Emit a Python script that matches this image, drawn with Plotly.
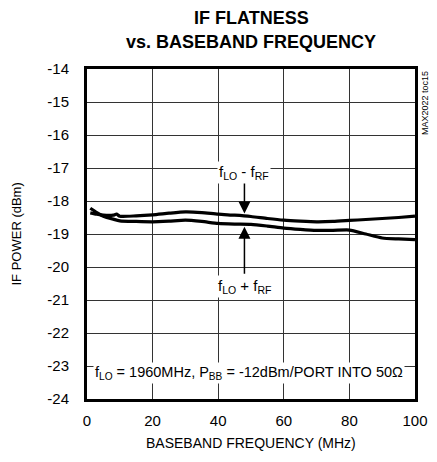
import plotly.graph_objects as go

freq_upper = [1, 3, 5, 8, 9, 10, 15, 20, 25, 30, 35, 40, 45, 50, 55, 60, 65, 70, 75, 80, 85, 90, 95, 100]
p_upper = [-18.36, -18.40, -18.43, -18.43, -18.40, -18.46, -18.45, -18.42, -18.37, -18.33, -18.35, -18.40, -18.43, -18.47, -18.53, -18.58, -18.61, -18.63, -18.62, -18.59, -18.56, -18.53, -18.50, -18.46]

freq_lower = [1, 3, 5, 8, 10, 15, 20, 25, 30, 35, 40, 45, 50, 55, 60, 65, 70, 75, 80, 85, 90, 95, 100]
p_lower = [-18.22, -18.35, -18.46, -18.55, -18.60, -18.62, -18.63, -18.61, -18.58, -18.62, -18.68, -18.70, -18.71, -18.76, -18.82, -18.86, -18.89, -18.89, -18.88, -19.00, -19.12, -19.15, -19.17]

x_ticks = [0, 20, 40, 60, 80, 100]
x_labels = ["0", "20", "40", "60", "80", "100"]
y_ticks = [-14, -15, -16, -17, -18, -19, -20, -21, -22, -23, -24]
y_labels = ["-14", "-15", "-16", "-17", "-18", "-19", "-20", "-21", "-22", "-23", "-24"]

FONT = "Liberation Sans, Arial, sans-serif"
BLACK = "black"

fig = go.Figure()
for xs, ys in ((freq_upper, p_upper), (freq_lower, p_lower)):
    fig.add_trace(go.Scatter(x=xs, y=ys, mode="lines",
                             line=dict(color=BLACK, width=3.2, shape="spline", smoothing=0.6),
                             showlegend=False, hoverinfo="skip"))

annotations = [
    # title (two lines)
    dict(x=0.5, y=1, xref="paper", yref="paper", xanchor="center", yanchor="middle", yshift=51,
         text="<b>IF FLATNESS</b>", showarrow=False,
         font=dict(family=FONT, size=18, color=BLACK)),
    dict(x=0.5, y=1, xref="paper", yref="paper", xanchor="center", yanchor="middle", yshift=27,
         text="<b>vs. BASEBAND FREQUENCY</b>", showarrow=False,
         font=dict(family=FONT, size=18, color=BLACK)),
    # axis titles
    dict(x=0.5, y=0, xref="paper", yref="paper", xanchor="center", yanchor="top", yshift=-34,
         text="BASEBAND FREQUENCY (MHz)", showarrow=False,
         font=dict(family=FONT, size=14, color=BLACK)),
    dict(x=0, y=0.5, xref="paper", yref="paper", xanchor="right", yanchor="middle", xshift=-62,
         text="IF POWER (dBm)", textangle=-90, showarrow=False,
         font=dict(family=FONT, size=13, color=BLACK)),
    # arrows
    dict(x=48, y=-18.38, xref="x", yref="y", ax=48, ay=-17.4, axref="x", ayref="y",
         text="", showarrow=True, arrowhead=2, arrowsize=1.6, arrowwidth=1.5, arrowcolor=BLACK),
    dict(x=48, y=-18.78, xref="x", yref="y", ax=48, ay=-20.25, axref="x", ayref="y",
         text="", showarrow=True, arrowhead=2, arrowsize=1.6, arrowwidth=1.5, arrowcolor=BLACK),
    # labels
    dict(x=48, y=-17.15, xref="x", yref="y", text="f<sub>LO</sub> - f<sub>RF</sub>",
         showarrow=False, font=dict(family=FONT, size=15, color=BLACK), bgcolor="white"),
    dict(x=48, y=-20.6, xref="x", yref="y", text="f<sub>LO</sub> + f<sub>RF</sub>",
         showarrow=False, font=dict(family=FONT, size=15, color=BLACK), bgcolor="white"),
    dict(x=49.5, y=-23.2, xref="x", yref="y",
         text="f<sub>LO</sub> = 1960MHz, P<sub>BB</sub> = -12dBm/PORT INTO 50\u03a9",
         showarrow=False, font=dict(family=FONT, size=14.5, color=BLACK), bgcolor="white"),
    dict(x=1.0, y=1.0, xref="paper", yref="paper", xanchor="left", yanchor="top", xshift=3,
         text="MAX2022 toc15", textangle=-90, showarrow=False,
         font=dict(family=FONT, size=9, color=BLACK)),
]

fig.update_layout(
    width=429, height=454,
    margin=dict(l=79, r=22, t=61, b=63, autoexpand=False),
    paper_bgcolor="white", plot_bgcolor="white",
    annotations=annotations,
    xaxis=dict(range=[0, 100], tickvals=x_ticks, ticktext=x_labels, ticks="", showgrid=True,
               gridcolor="#333", gridwidth=1, zeroline=False, showline=True, linecolor=BLACK,
               linewidth=3, mirror=True, automargin=False, ticklabelstandoff=6,
               tickfont=dict(family=FONT, size=15, color=BLACK)),
    yaxis=dict(range=[-24, -14], tickvals=y_ticks, ticktext=y_labels, ticks="", showgrid=True,
               gridcolor="#333", gridwidth=1, zeroline=False, showline=True, linecolor=BLACK,
               linewidth=3, mirror=True, automargin=False, ticklabelstandoff=12,
               tickfont=dict(family=FONT, size=15, color=BLACK)),
)

fig.write_html("out.html")
